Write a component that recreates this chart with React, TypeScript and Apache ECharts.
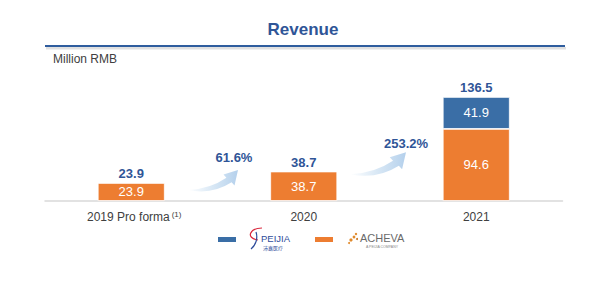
import React, { useEffect, useRef } from "react";
import * as echarts from "echarts";

const categories = ["2019 Pro forma", "2020", "2021"];
const footnotes = ["(1)", "", ""];
const achevaValues = [23.9, 38.7, 94.6];
const peijiaValues = [0, 0, 41.9];
const growthLabels = ["61.6%", "253.2%"];
const seriesNames = ["ACHEVA", "PEIJIA"];

const BLUE = "#3A6EA6";
const ORANGE = "#ED7D31";
const DARK = "#2F5597";

const arrowD =
  "M0 22 Q24 27 43.6 14.3 L46.5 17.5 L50 2 L35.5 6.5 L38.4 9.7 Q22 21 0 22 Z";

export default function App() {
  const ref = useRef<HTMLDivElement>(null);
  useEffect(() => {
    if (!ref.current) return;
    try {
      echarts.graphic.registerShape(
        "growthArrow",
        echarts.graphic.extendPath(arrowD, {}) as any
      );
    } catch (e) {}
    const chart = echarts.init(ref.current, null, { renderer: "svg" });
    const totals = achevaValues.map((v, i) => +(v + peijiaValues[i]).toFixed(1));
    const grad = () =>
      new echarts.graphic.LinearGradient(0, 0, 1, 0, [
        { offset: 0, color: "rgba(189,215,238,0)" },
        { offset: 0.5, color: "rgba(189,215,238,0.6)" },
        { offset: 1, color: "#B4D0EC" },
      ]);
    const font = "'Liberation Sans', Arial, sans-serif";
    chart.setOption({
      animation: false,
      textStyle: { fontFamily: font },
      grid: { left: 45, right: 49.5, top: 60, bottom: 86, containLabel: false },
      xAxis: {
        type: "category",
        data: categories,
        axisTick: { show: false },
        axisLine: { show: true, lineStyle: { color: "#D9D9D9", width: 1.5 } },
        axisLabel: {
          interval: 0,
          margin: 9,
          color: "#404040",
          formatter: (v: string) => {
            const i = categories.indexOf(v);
            const fn = footnotes[i];
            return fn ? `{p|}{a|${v}}{s|${fn}}` : `{a|${v}}`;
          },
          rich: {
            p: { width: 6 },
            a: { fontSize: 12, color: "#404040", fontFamily: font, lineHeight: 14 },
            s: { fontSize: 8, color: "#404040", fontFamily: font, verticalAlign: "top", lineHeight: 14, padding: [0, 0, 4, 2] },
          },
        },
      },
      yAxis: { type: "value", min: 0, max: 185, show: false, splitLine: { show: false } },
      series: [
        {
          name: seriesNames[0],
          type: "bar",
          stack: "total",
          barWidth: 67,
          data: achevaValues,
          itemStyle: { color: ORANGE, borderColor: "#fff", borderWidth: 0.8 },
          label: { show: true, position: "inside", color: "#fff", fontSize: 13, fontFamily: font, formatter: (p: any) => p.value.toFixed(1) },
        },
        {
          name: seriesNames[1],
          type: "bar",
          stack: "total",
          barWidth: 67,
          data: peijiaValues,
          itemStyle: { color: BLUE, borderColor: "#fff", borderWidth: 0.8 },
          label: { show: true, position: "inside", color: "#fff", fontSize: 13, fontFamily: font, formatter: (p: any) => (p.value ? p.value.toFixed(1) : "") },
        },
        {
          name: "total",
          type: "bar",
          stack: "total",
          barWidth: 67,
          data: totals.map(() => 0),
          itemStyle: { color: "transparent" },
          label: {
            show: true,
            position: "top",
            distance: 3,
            color: DARK,
            fontWeight: "bold",
            fontSize: 13,
            fontFamily: font,
            formatter: (p: any) => totals[p.dataIndex].toFixed(1),
          },
        },
      ],
      graphic: [
        {
          type: "text",
          x: 303,
          y: 29,
          style: { text: "Revenue", fill: DARK, font: `bold 17px ${font}`, textAlign: "center", textVerticalAlign: "middle" },
        },
        {
          type: "rect",
          shape: { x: 46, y: 47, width: 520, height: 2.5 },
          style: { fill: "rgba(0,0,0,0.12)" },
        },
        {
          type: "rect",
          shape: { x: 45, y: 45, width: 520, height: 2 },
          style: { fill: "#2F5D9E" },
        },
        {
          type: "text",
          x: 53,
          y: 59,
          style: { text: "Million RMB", fill: "#404040", font: `12px ${font}`, textVerticalAlign: "middle" },
        },
        {
          type: "growthArrow",
          x: 188,
          y: 168,
          style: { fill: grad() },
        },
        {
          type: "text",
          x: 234,
          y: 157,
          style: { text: growthLabels[0], fill: DARK, font: `bold 13px ${font}`, textAlign: "center", textVerticalAlign: "middle" },
        },
        {
          type: "growthArrow",
          x: 350,
          y: 150,
          scaleX: 1.12,
          scaleY: 1.1,
          style: { fill: grad() },
        },
        {
          type: "text",
          x: 406,
          y: 143,
          style: { text: growthLabels[1], fill: DARK, font: `bold 13px ${font}`, textAlign: "center", textVerticalAlign: "middle" },
        },
        // legend: PEIJIA
        { type: "rect", shape: { x: 218, y: 237, width: 18, height: 5 }, style: { fill: BLUE } },
        {
          type: "bezierCurve",
          shape: { x1: 262, y1: 228, cpx1: 250, cpy1: 228, cpx2: 245, cpy2: 238, x2: 258, y2: 240 },
          style: { stroke: "#D9263B", lineWidth: 1.2, fill: "none" },
        },
        {
          type: "bezierCurve",
          shape: { x1: 256, y1: 232, cpx1: 258, cpy1: 238, cpx2: 256, cpy2: 245, x2: 251, y2: 249 },
          style: { stroke: "#2E4B9A", lineWidth: 1.2, fill: "none" },
        },
        {
          type: "text",
          x: 261,
          y: 238,
          style: { text: seriesNames[1], fill: "#2E4B9A", font: `9.5px ${font}`, textVerticalAlign: "middle" },
        },
        {
          type: "text",
          x: 263,
          y: 247,
          style: { text: "沛嘉医疗", fill: "#2E4B9A", font: `5px 'Noto Sans CJK SC'`, textVerticalAlign: "middle" },
        },
        // legend: ACHEVA
        { type: "rect", shape: { x: 315, y: 237, width: 18, height: 5 }, style: { fill: ORANGE } },
        { type: "circle", shape: { cx: 351, cy: 240, r: 1.6 }, style: { fill: "#E08A2C" } },
        { type: "circle", shape: { cx: 354, cy: 237, r: 1.4 }, style: { fill: "#E08A2C" } },
        { type: "circle", shape: { cx: 356, cy: 234, r: 1.2 }, style: { fill: "#E08A2C" } },
        { type: "circle", shape: { cx: 349, cy: 243, r: 1.0 }, style: { fill: "#E08A2C" } },
        { type: "circle", shape: { cx: 357, cy: 239, r: 1.0 }, style: { fill: "#C87420" } },
        {
          type: "text",
          x: 360,
          y: 238,
          style: { text: seriesNames[0], fill: "#6A6A6A", font: `11px ${font}`, textVerticalAlign: "middle" },
        },
        {
          type: "text",
          x: 366,
          y: 246.5,
          style: { text: "A PEIJIA COMPANY", fill: "#8A8A8A", font: `3.5px ${font}`, textVerticalAlign: "middle" },
        },
      ],
    });
    return () => chart.dispose();
  }, []);
  return (
    <div
      ref={ref}
      style={{ position: "fixed", left: 0, top: 0, width: 612, height: 287, background: "#fff" }}
    />
  );
}
